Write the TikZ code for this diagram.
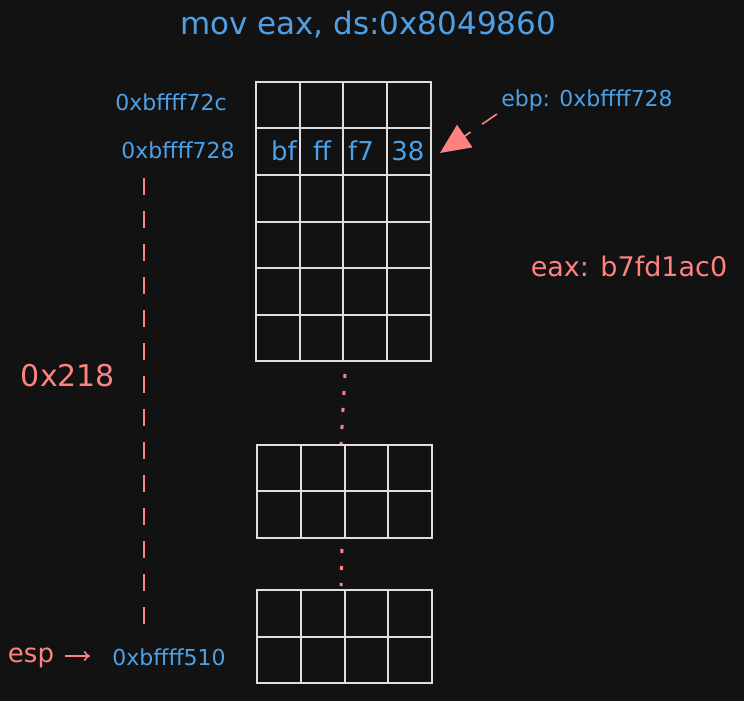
\documentclass[tikz,border=0pt]{standalone}
\usepackage{fontspec}
\setmainfont{DejaVu Sans}
\usetikzlibrary{arrows.meta}
\definecolor{bg}{RGB}{18,18,18}
\definecolor{hblue}{RGB}{78,160,230}
\definecolor{hred}{RGB}{255,130,130}
\definecolor{gridc}{RGB}{222,222,222}
\tikzset{
  gridline/.style={draw=gridc, line width=1.8pt},
  btxt/.style={text=hblue, inner sep=0pt, font=\fontsize{#1}{#1}\selectfont},
  rtxt/.style={text=hred, inner sep=0pt, font=\fontsize{#1}{#1}\selectfont},
  celltxt/.style={btxt=26},
  spanline/.style={draw=hred, line width=1.6pt, dash pattern=on 17pt off 16pt},
  dotline/.style={draw=hred, line width=3pt, dash pattern=on 4pt off 13pt},
  ptrarrow/.style={draw=hred, line width=1.6pt, dash pattern=on 18pt off 14pt,
    -{Triangle[length=30pt,width=27pt,fill=hred]}},
  esparrow/.style={draw=hred, line width=1.6pt, -{To[length=6pt,width=10pt]}},
}
\begin{document}
\begin{tikzpicture}[x=1pt,y=-1pt]
\fill[bg] (0,0) rectangle (744,701);
\useasboundingbox (0,0) rectangle (744,701);

% top block of stack cells
\draw[gridline] (256,82) rectangle (431,361);
\foreach \x in {300,343,387} \draw[gridline] (\x,82) -- (\x,361);
\foreach \y in {128,175,222,268,315} \draw[gridline] (256,\y) -- (431,\y);

% middle block
\draw[gridline] (257,445) rectangle (432,538);
\foreach \x in {301,345,388} \draw[gridline] (\x,445) -- (\x,538);
\draw[gridline] (257,491) -- (432,491);

% bottom block
\draw[gridline] (257,590) rectangle (432,683);
\foreach \x in {301,345,388} \draw[gridline] (\x,590) -- (\x,683);
\draw[gridline] (257,637) -- (432,637);

% texts
\node[btxt=31] (title) at (368,25) {mov eax, ds:0x8049860};
\node[btxt=22] (a72c) at (171,102) {0xbffff72c};
\node[btxt=22] (a728) at (178,150) {0xbffff728};
\node[btxt=22] (ebp) at (587,100) {ebp: 0xbffff728};
\node[rtxt=27] (eax) at (629,266) {eax: b7fd1ac0};
\node[rtxt=30] (span) at (68,376) {0x218};
\node[rtxt=26] (esp) at (31,658) {esp};
\node[btxt=22] (a510) at (169,657) {0xbffff510};

\node[celltxt] (cbf) at (284,151) {bf};
\node[celltxt] (cff) at (322,151) {ff};
\node[celltxt] (cf7) at (361,151) {f7};
\node[celltxt] (c38) at (408,151) {38};

% connectors
\coordinate (spantop) at (144,178);
\coordinate (spanbot) at (144,626);
\draw[spanline] (spantop) -- (spanbot);

\coordinate (d1s) at (345,374);
\coordinate (d1e) at (341,444);
\draw[dotline] (d1s) -- (d1e);
\coordinate (d2s) at (342,549);
\coordinate (d2e) at (341,586);
\draw[dotline] (d2s) -- (d2e);

\coordinate (ebptail) at (497,114);
\coordinate (ebptip) at (440,153);
\draw[ptrarrow] (ebptail) -- (ebptip);

\coordinate (espA) at (65,656);
\coordinate (espB) at (90,656);
\draw[esparrow] (espA) -- (espB);
\end{tikzpicture}
\end{document}
